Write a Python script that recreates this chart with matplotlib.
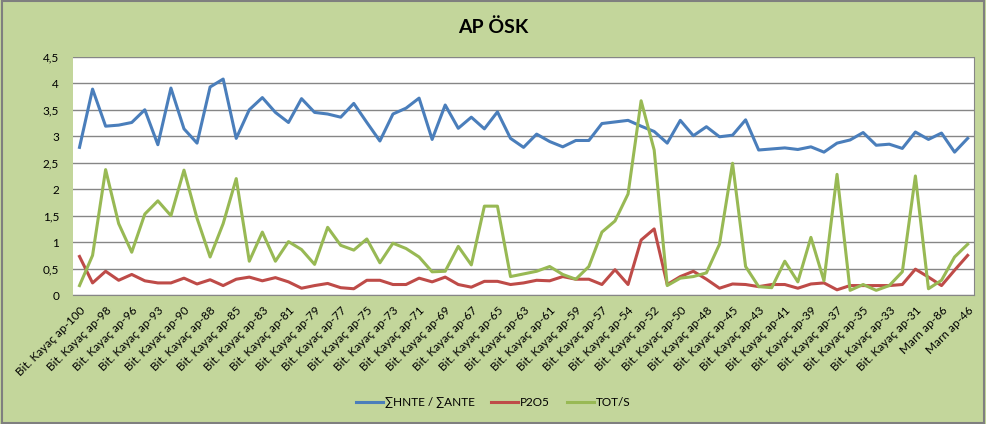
import matplotlib
matplotlib.use("Agg")
import matplotlib.pyplot as plt
from matplotlib.patches import Rectangle

plt.rcParams['font.family'] = ['Lato', 'DejaVu Sans']

# ornek adlari (yalnizca ciftler eksende gorunur)
numaralar = [100, 99, 98, 97, 96, 95, 93, 92, 90, 89, 88, 87, 85, 84, 83, 82,
             81, 80, 79, 78, 77, 76, 75, 74, 73, 72, 71, 70, 69, 68, 67, 66,
             65, 64, 63, 62, 61, 60, 59, 58, 57, 56, 54, 53, 52, 51, 50, 49,
             48, 47, 45, 44, 43, 42, 41, 40, 39, 38, 37, 36, 35, 34, 33, 32,
             31, 30]
ornekler = ["Bit. Kayaç ap-%d" % n for n in numaralar] + ["Marn ap-86", "Marn ap-60", "Marn ap-46"]

hnte_ante = [2.79, 3.89, 3.19, 3.21, 3.26, 3.50, 2.84, 3.91, 3.14, 2.87,
             3.93, 4.08, 2.96, 3.50, 3.73, 3.45, 3.26, 3.71, 3.45, 3.42,
             3.36, 3.62, 3.26, 2.91, 3.42, 3.53, 3.72, 2.94, 3.59, 3.15,
             3.36, 3.14, 3.46, 2.96, 2.79, 3.04, 2.90, 2.80, 2.92, 2.92,
             3.24, 3.27, 3.30, 3.19, 3.09, 2.87, 3.30, 3.01, 3.18, 2.99,
             3.02, 3.31, 2.74, 2.76, 2.78, 2.75, 2.80, 2.70, 2.87, 2.93,
             3.07, 2.83, 2.85, 2.77, 3.08, 2.94, 3.06, 2.70, 2.96]
p2o5 = [0.73, 0.23, 0.45, 0.28, 0.39, 0.27, 0.23, 0.23, 0.32, 0.21,
        0.29, 0.18, 0.30, 0.34, 0.27, 0.33, 0.25, 0.13, 0.18, 0.22,
        0.14, 0.12, 0.28, 0.28, 0.20, 0.20, 0.32, 0.25, 0.34, 0.20,
        0.15, 0.26, 0.26, 0.20, 0.23, 0.28, 0.27, 0.35, 0.30, 0.30,
        0.20, 0.48, 0.20, 1.04, 1.25, 0.20, 0.35, 0.45, 0.30, 0.13,
        0.21, 0.20, 0.16, 0.20, 0.20, 0.13, 0.21, 0.23, 0.10, 0.18,
        0.18, 0.18, 0.18, 0.20, 0.49, 0.34, 0.18, 0.47, 0.75]
tot_s = [0.18, 0.75, 2.37, 1.35, 0.81, 1.53, 1.78, 1.50, 2.36, 1.45,
         0.72, 1.35, 2.20, 0.64, 1.19, 0.64, 1.01, 0.86, 0.58, 1.28,
         0.94, 0.85, 1.06, 0.61, 0.98, 0.88, 0.72, 0.44, 0.45, 0.92,
         0.57, 1.68, 1.68, 0.35, 0.40, 0.45, 0.54, 0.39, 0.30, 0.54,
         1.19, 1.40, 1.91, 3.67, 2.74, 0.18, 0.32, 0.35, 0.42, 0.96,
         2.49, 0.54, 0.16, 0.14, 0.64, 0.25, 1.09, 0.27, 2.28, 0.09,
         0.20, 0.09, 0.18, 0.44, 2.25, 0.12, 0.28, 0.72, 0.96]

y_ticks = [0, 0.5, 1, 1.5, 2, 2.5, 3, 3.5, 4, 4.5]

bg = '#C3D69B'
fig = plt.figure(figsize=(9.86, 4.24), dpi=100, facecolor=bg)
ax = fig.add_axes([0.074, 0.304, 0.914, 0.562])
ax.set_facecolor('white')

x = list(range(len(ornekler)))
ax.plot(x, hnte_ante, color='#4A7EBB', lw=2.2, label='∑HNTE / ∑ANTE')
ax.plot(x, p2o5, color='#BE4B48', lw=2.2, label='P2O5')
ax.plot(x, tot_s, color='#98B954', lw=2.2, label='TOT/S')

ax.set_xlim(-0.5, len(ornekler) - 0.5)
ax.set_ylim(0, 4.5)
ax.set_yticks(y_ticks)
ax.set_yticklabels([("%g" % v).replace('.', ',') for v in y_ticks], fontsize=8.5)
ax.yaxis.grid(True, color='#868686', lw=1)
ax.set_axisbelow(True)
ax.tick_params(axis='y', length=0, pad=10)
ax.tick_params(axis='x', length=0, pad=7)

ax.set_xticks(x[::2])
ax.set_xticklabels(ornekler[::2], rotation=45, ha='right', rotation_mode='anchor', fontsize=8.5)

for s in ['top', 'left']:
    ax.spines[s].set_visible(False)
ax.spines['bottom'].set_color('#868686')
ax.spines['right'].set_color('#868686')

fig.text(0.5, 0.935, 'AP ÖSK', ha='center', va='center', fontsize=14, fontweight='bold')

fig.legend(loc='center', bbox_to_anchor=(0.5, 0.05), ncol=3, frameon=False,
           fontsize=8.5, handlelength=2.3, columnspacing=1.4, handletextpad=0.15)

fig.patches.append(Rectangle((0.002, 0.003), 0.996, 0.994, transform=fig.transFigure,
                             fill=False, edgecolor='#7F7F7F', lw=1.5))

fig.savefig('out.png', dpi=100, facecolor=bg)
